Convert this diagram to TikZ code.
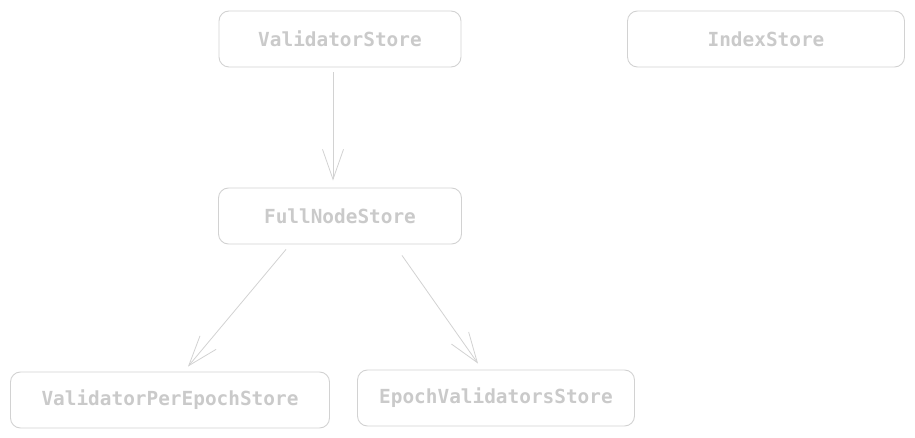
\documentclass[tikz,border=0pt]{standalone}
\usepackage{fontspec}
\setmonofont{DejaVu Sans Mono}
\usepackage{tikz}
\usetikzlibrary{positioning}
\usetikzlibrary{arrows.meta}
\usetikzlibrary{calc}
\definecolor{sketchgray}{HTML}{D2D2D2}
\definecolor{labelgray}{HTML}{CACACA}
\tikzstyle{storebox}=[rectangle,rounded corners=10pt,draw=sketchgray,line width=0.9pt,minimum height=56pt,inner sep=0pt,text=labelgray,font=\ttfamily\bfseries\fontsize{19.4}{22}\selectfont]
\tikzstyle{link}=[draw=sketchgray,line width=0.8pt,-{Straight Barb[length=30pt,width=21pt,line width=0.8pt]}]

\begin{document}
\begin{tikzpicture}[x=1pt,y=-1pt]

  \useasboundingbox (0,0) rectangle (915,438);

  \foreach \x/\y/\w/\name/\label in {340/39/242/vs/ValidatorStore, 766/39/277/is/IndexStore, 340/216/243/fn/FullNodeStore, 170/400/319/vpe/ValidatorPerEpochStore, 496/398/277/evs/EpochValidatorsStore}
          \node[storebox, minimum width=\w pt] (\name) at (\x, \y) {\label};

  \draw[link] ($(vs.south)+(-7,5)$) -- ($(fn.north)+(-7,-7)$);
  \draw[link] ($(fn.south)+(-54,5)$) -- ($(vpe.north)+(18,-5)$);
  \draw[link] ($(fn.south)+(62,11)$) -- ($(evs.north)+(-18,-6)$);

\end{tikzpicture}
\end{document}
